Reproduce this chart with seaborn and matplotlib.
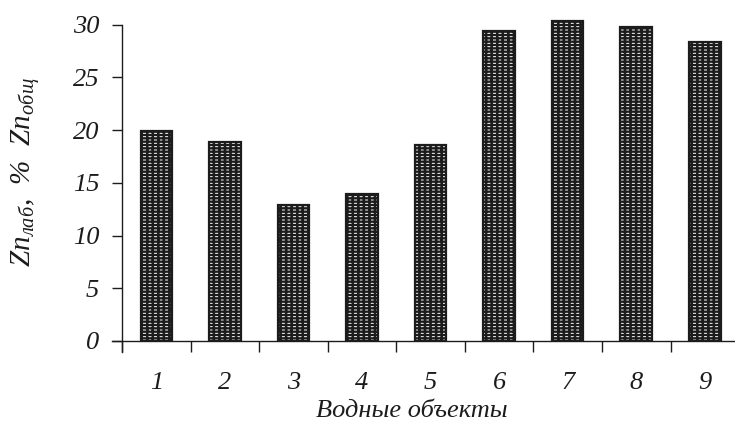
import matplotlib
matplotlib.use("Agg")
import matplotlib.pyplot as plt
import seaborn as sns
import numpy as np
from matplotlib.ticker import FixedLocator

objects = ["1", "2", "3", "4", "5", "6", "7", "8", "9"]
values = [19.9, 18.9, 12.9, 13.9, 18.6, 29.4, 30.4, 29.8, 28.4]
yticks = [0, 5, 10, 15, 20, 25, 30]

sns.set_style("white")
plt.rcParams["font.family"] = ["Liberation Serif", "DejaVu Serif"]
plt.rcParams["font.style"] = "italic"
plt.rcParams["mathtext.fontset"] = "custom"
plt.rcParams["mathtext.it"] = "Liberation Serif:italic"
plt.rcParams["mathtext.rm"] = "Liberation Serif:italic"
plt.rcParams["hatch.linewidth"] = 1.7

fig = plt.figure(figsize=(7.35, 4.38), dpi=100)
ax = fig.add_axes([0.166, 0.2215, 0.834, 0.758])

sns.barplot(x=objects, y=values, width=0.46, color="white", saturation=1,
            edgecolor="#1c1c1c", linewidth=1.6, ax=ax)
for p in ax.patches:
    p.set_hatch("-----|||")

ax.set_xlim(-0.5, 8.44)
ax.set_ylim(0, 31.5)

for s in ["top", "right"]:
    ax.spines[s].set_visible(False)
for s in ["left", "bottom"]:
    ax.spines[s].set_linewidth(1.0)
    ax.spines[s].set_color("#1c1c1c")
ax.spines["bottom"].set_bounds(-0.5 - 0.146, 8.44)
ax.spines["left"].set_bounds(-1.04, 30)

ax.set_yticks(yticks)
ax.set_yticklabels([str(v) for v in yticks])
ax.tick_params(axis="y", which="major", direction="out", length=7.5, width=1.0,
               color="#1c1c1c", pad=9, labelsize=19, left=True)
ax.xaxis.set_minor_locator(FixedLocator(np.arange(-0.5, 8.0, 1.0)))
ax.tick_params(axis="x", which="major", length=0, pad=22, labelsize=19)
ax.tick_params(axis="x", which="minor", direction="out", length=8, width=1.0,
               color="#1c1c1c", bottom=True)

for lbl in ax.get_xticklabels() + ax.get_yticklabels():
    lbl.set_fontstyle("italic")
    lbl.set_color("#1c1c1c")

ax.set_xlabel("Водные объекты", fontsize=19, fontstyle="italic", color="#1c1c1c")
ax.xaxis.set_label_coords(0.473, -0.21)
ax.xaxis.label.set_va("center")
ax.set_ylabel(r"Zn$_{\mathit{лаб}}$,  %  Zn$_{\mathit{общ}}$", fontsize=21,
              fontstyle="italic", color="#1c1c1c")
ax.yaxis.set_label_coords(-0.158, 0.509)
ax.yaxis.label.set_va("center")

fig.savefig("out.png", dpi=100)
